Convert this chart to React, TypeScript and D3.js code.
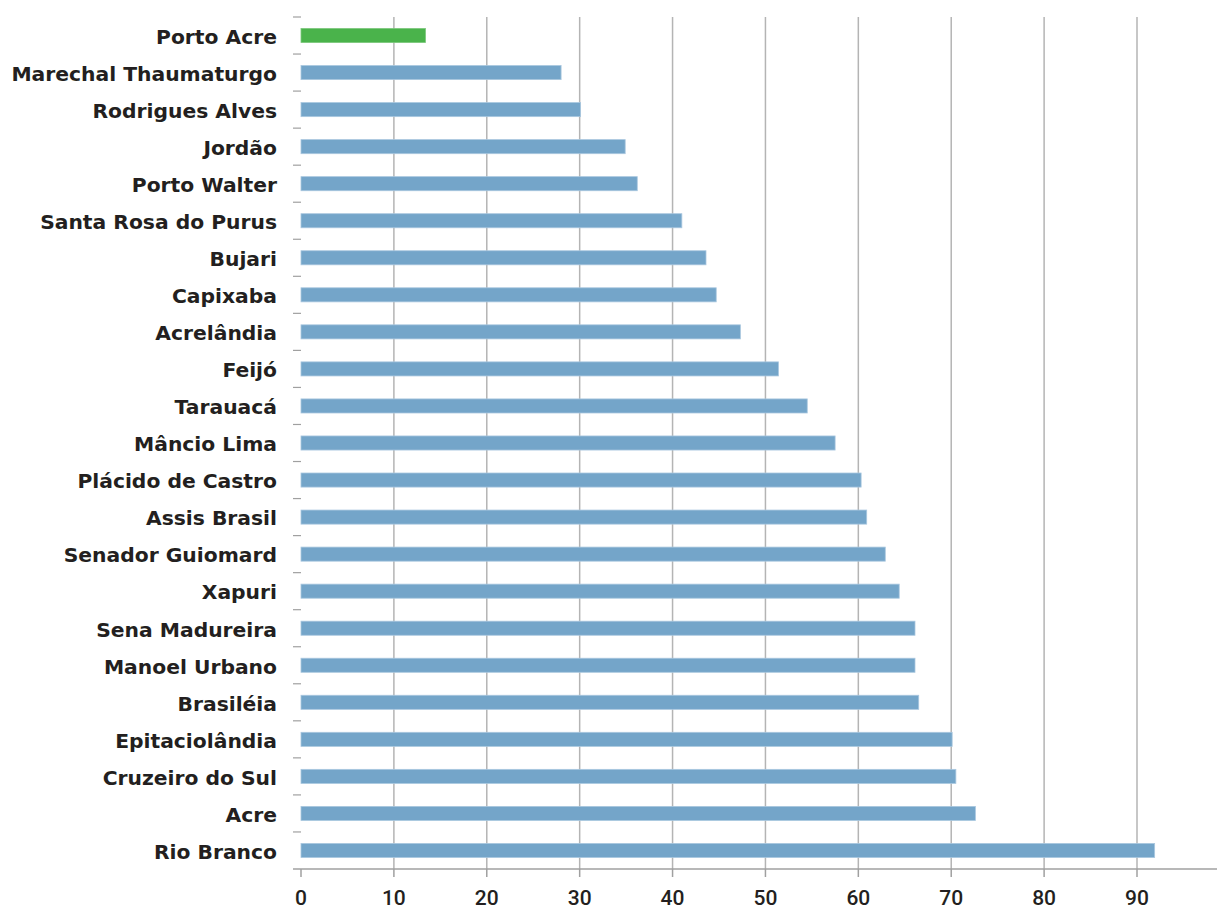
import React from 'react';
import * as d3 from 'd3';

const municipios = [
  'Porto Acre',
  'Marechal Thaumaturgo',
  'Rodrigues Alves',
  'Jordão',
  'Porto Walter',
  'Santa Rosa do Purus',
  'Bujari',
  'Capixaba',
  'Acrelândia',
  'Feijó',
  'Tarauacá',
  'Mâncio Lima',
  'Plácido de Castro',
  'Assis Brasil',
  'Senador Guiomard',
  'Xapuri',
  'Sena Madureira',
  'Manoel Urbano',
  'Brasiléia',
  'Epitaciolândia',
  'Cruzeiro do Sul',
  'Acre',
  'Rio Branco',
];

const valores = [
  13.4, 28.0, 30.1, 34.9, 36.2, 41.0, 43.6, 44.7, 47.3, 51.4, 54.5, 57.5,
  60.3, 60.9, 62.9, 64.4, 66.1, 66.1, 66.5, 70.1, 70.5, 72.6, 91.9,
];

const destaque = 'Porto Acre';
const xTicks = [0, 10, 20, 30, 40, 50, 60, 70, 80, 90];

const W = 1219;
const H = 910;
const left = 301;
const top = 17;
const axisY = 869;
const axisRight = 1217;

export default function App() {
  const x = d3.scaleLinear().domain([0, 90]).range([left, 1137]);
  const y = d3
    .scaleBand<string>()
    .domain(municipios)
    .range([top, axisY])
    .paddingInner(0.62)
    .paddingOuter(0.31);
  const step = y.step();

  return (
    <svg
      width={W}
      height={H}
      style={{position: 'absolute', left: 0, top: 0, background: '#fff'}}
    >
      {/* grid */}
      {xTicks.slice(1).map(t => (
        <line
          key={'g' + t}
          x1={x(t)}
          x2={x(t)}
          y1={top}
          y2={axisY}
          stroke="#b4b4b4"
          strokeWidth={1.5}
        />
      ))}

      {/* y ticks between rows */}
      {municipios.map((_, i) => (
        <line
          key={'yt' + i}
          x1={293}
          x2={301}
          y1={top + i * step}
          y2={top + i * step}
          stroke="#a0a0a0"
          strokeWidth={1.2}
        />
      ))}

      {/* bars */}
      {municipios.map((m, i) => (
        <rect
          key={m}
          x={x(0)}
          y={y(m)}
          width={x(valores[i]) - x(0)}
          height={y.bandwidth()}
          fill={m === destaque ? '#4ab34b' : '#74a5c9'}
          stroke={m === destaque ? '#7cc87c' : '#a9c7df'}
          strokeWidth={0.8}
        />
      ))}

      {/* labels */}
      {municipios.map(m => (
        <text
          key={'l' + m}
          x={277}
          y={(y(m) ?? 0) + y.bandwidth() / 2 + 1}
          dy="0.36em"
          textAnchor="end"
          fontFamily="DejaVu Sans"
          fontWeight="bold"
          fontSize={20.3}
          fill="#231f20"
        >
          {m}
        </text>
      ))}

      {/* x axis */}
      <line x1={293} x2={axisRight} y1={axisY} y2={axisY} stroke="#a0a0a0" strokeWidth={1.5} />
      {xTicks.map(t => (
        <g key={'xt' + t}>
          <line x1={x(t)} x2={x(t)} y1={axisY} y2={877} stroke="#a0a0a0" strokeWidth={1.5} />
          <text
            x={x(t)}
            y={905}
            textAnchor="middle"
            fontFamily="Roboto"
            fontWeight={500}
            fontSize={21}
            fill="#231f20"
          >
            {t}
          </text>
        </g>
      ))}
    </svg>
  );
}
